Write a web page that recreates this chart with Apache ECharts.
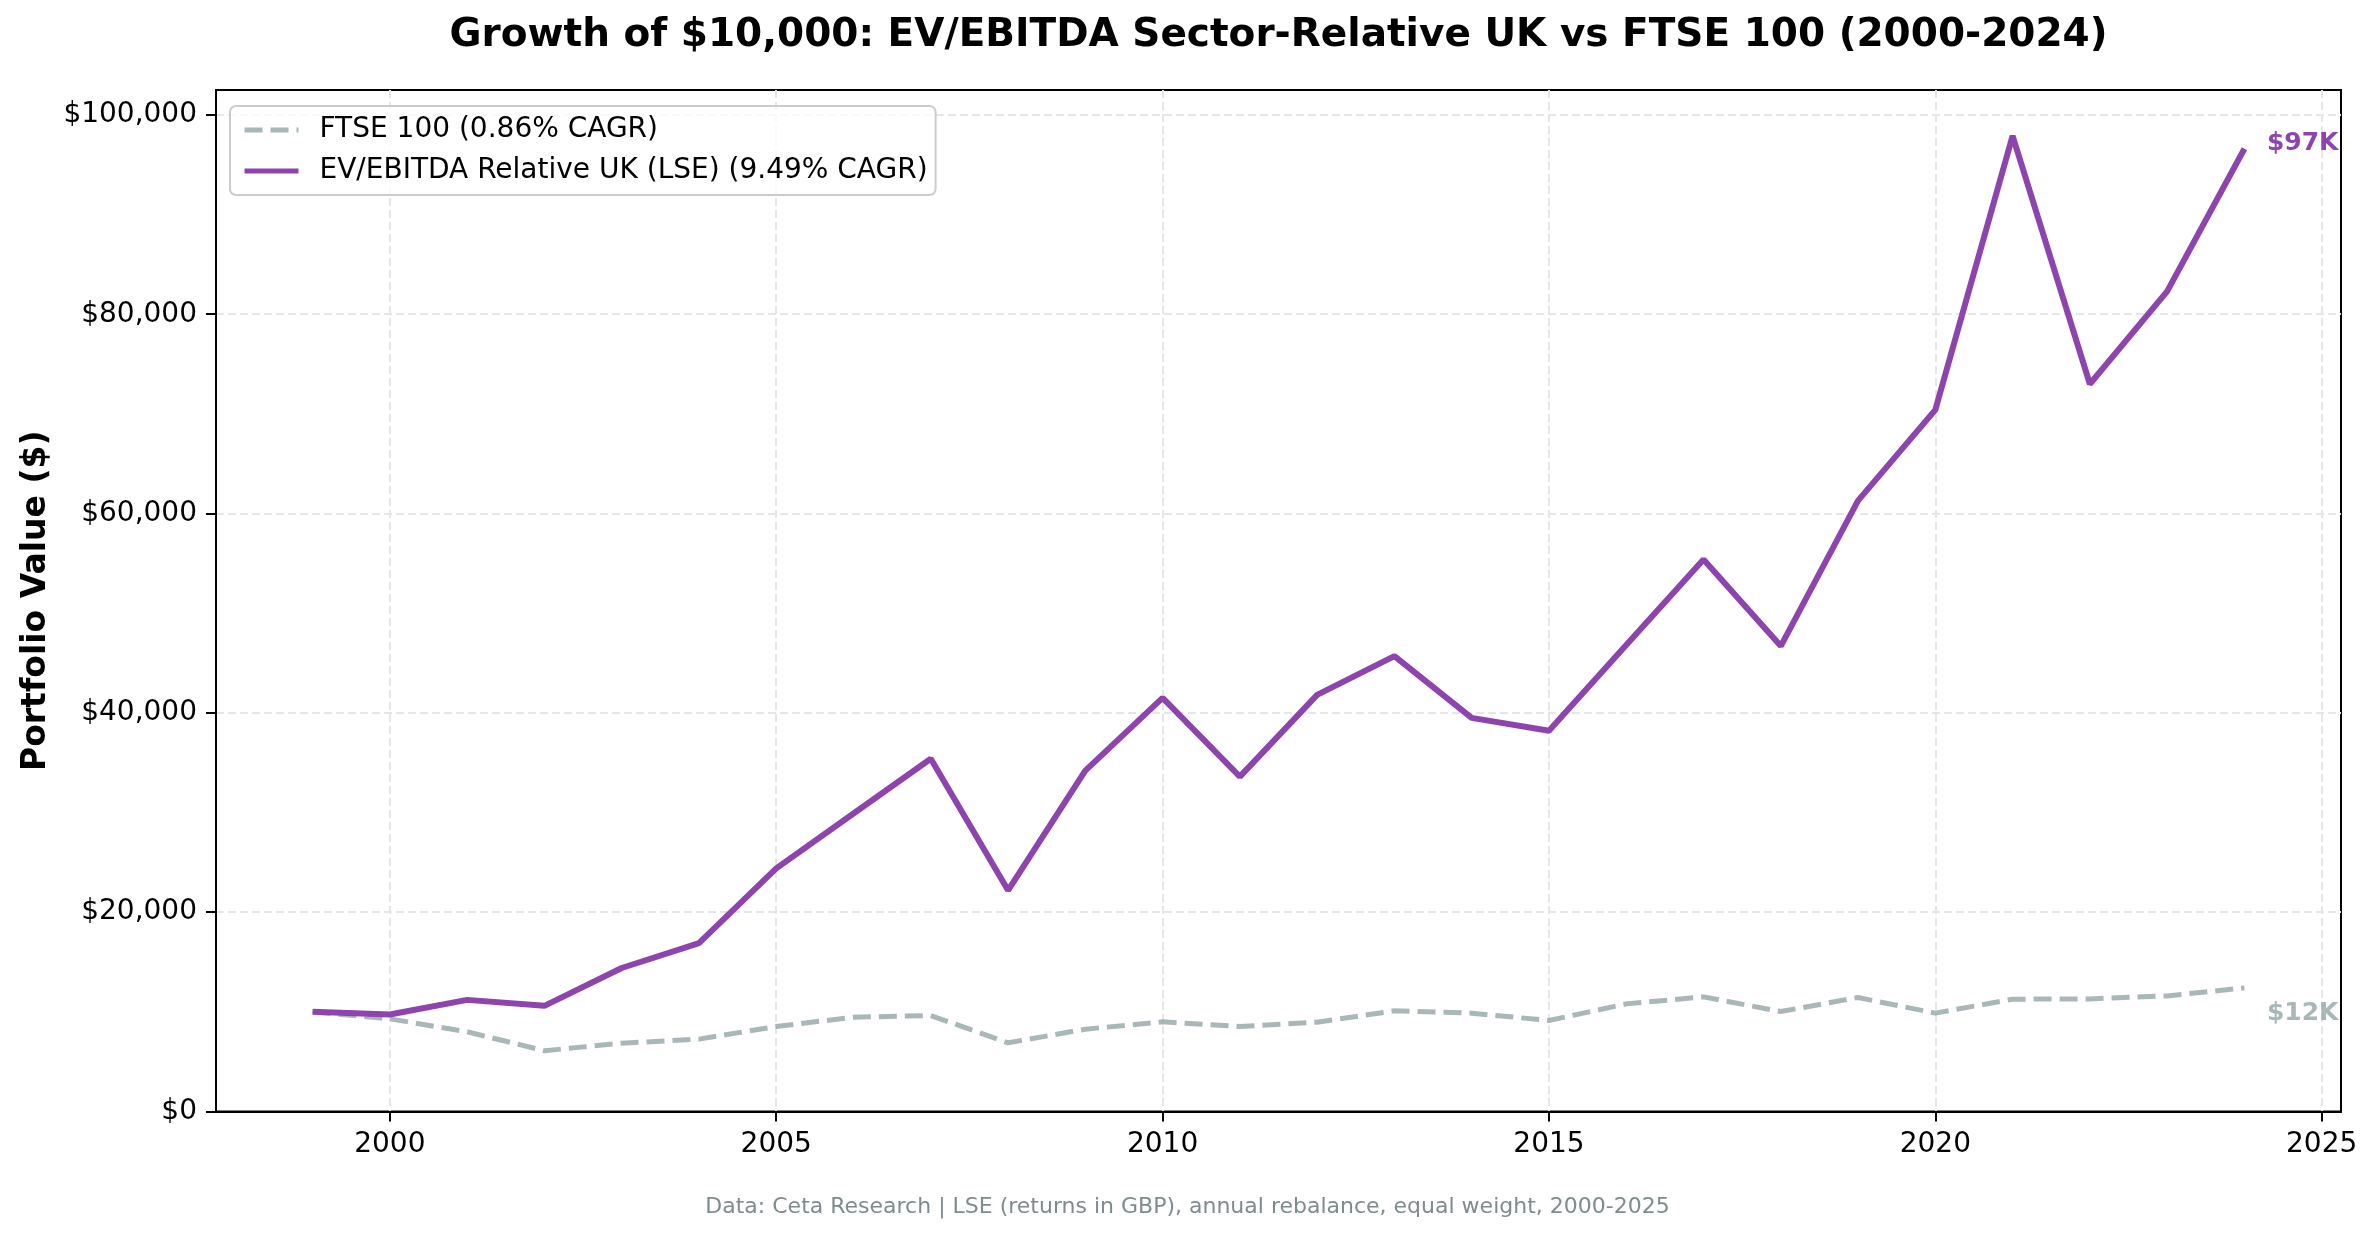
<!DOCTYPE html>
<html><head><meta charset="utf-8">
<script src="https://cdn.jsdelivr.net/npm/echarts@6/dist/echarts.min.js"></script>
<style>html,body{margin:0;padding:0;background:#fff}#c{width:2375px;height:1239px}</style>
</head><body><div id="c"></div>
<script>
const years = [1999,2000,2001,2002,2003,2004,2005,2006,2007,2008,2009,2010,2011,2012,2013,2014,2015,2016,2017,2018,2019,2020,2021,2022,2023,2024];
const ftse = [10000,9300,8000,6100,6850,7260,8530,9460,9630,6890,8260,9000,8530,8960,10100,9870,9130,10800,11500,10030,11440,9870,11270,11300,11600,12400];
const evEbitda = [10000,9730,11200,10600,14400,16900,24400,29900,35400,22200,34200,41500,33600,41800,45700,39500,38200,46800,55400,46700,61300,70400,97900,73000,82300,96600];
const seriesNames = ['FTSE 100 (0.86% CAGR)', 'EV/EBITDA Relative UK (LSE) (9.49% CAGR)'];
const xTicks = [2000,2005,2010,2015,2020,2025];
const yTicks = [0,20000,40000,60000,80000,100000];
const titleText = 'Growth of $10,000: EV/EBITDA Sector-Relative UK vs FTSE 100 (2000-2024)';
const footerText = 'Data: Ceta Research | LSE (returns in GBP), annual rebalance, equal weight, 2000-2025';
const yName = 'Portfolio Value ($)';

const FONT = 'DejaVu Sans';
const GRAY = 'rgba(149,165,166,0.8)';
const PURPLE = '#8e44ad';
const W = 2375, H = 1239;
const G = {left: 216, right: 34, top: 90, bottom: 127.5};

function pairs(vals){ return years.map((y,i)=>[y, vals[i]]); }
function endLabel(vals, color, dy){
  const n = vals.length - 1;
  return {
    symbol: 'circle', symbolSize: 1, silent: true,
    itemStyle: {color: 'rgba(0,0,0,0)'},
    data: [{coord: [years[n], vals[n]], value: vals[n]}],
    label: {show: true, position: 'right', distance: 22, offset: [0, dy],
      formatter: p => '$' + Math.round(p.value/1000) + 'K',
      color: color, fontFamily: FONT, fontWeight: 'bold', fontSize: 25}
  };
}

const chart = echarts.init(document.getElementById('c'), null, {renderer: 'canvas'});
chart.setOption({
  animation: false,
  backgroundColor: '#fff',
  textStyle: {fontFamily: FONT},
  title: [
    {text: footerText, left: 'center', top: 1191,
     textStyle: {fontFamily: FONT, fontSize: 22, fontWeight: 'normal', color: '#7f8c8d'}}
  ],
  graphic: [
    {type: 'text', x: G.left + (W - G.left - G.right) / 2, y: 36, silent: true,
     style: {text: titleText, fill: '#000', font: 'bold 39px "DejaVu Sans"', textAlign: 'center', textVerticalAlign: 'middle'}}
  ],
  grid: {left: G.left, right: G.right, top: G.top, bottom: G.bottom, show: true, borderColor: '#000', borderWidth: 2, backgroundColor: 'rgba(0,0,0,0)'},
  legend: {
    orient: 'vertical', left: 230, top: 106,
    padding: [10, 8, 10, 12], itemGap: 13, itemWidth: 54, itemHeight: 28,
    backgroundColor: 'rgba(255,255,255,0.8)', borderColor: '#cccccc', borderWidth: 2, borderRadius: 6,
    itemStyle: {color: 'rgba(0,0,0,0)', borderWidth: 0, opacity: 0},
    lineStyle: {width: 5},
    textStyle: {fontFamily: FONT, fontSize: 28, color: '#000', padding: [0,0,0,16]},
    data: seriesNames
  },
  xAxis: {
    type: 'value', min: 1997.75, max: 2025.25,
    axisLine: {show: true, onZero: false, lineStyle: {color: '#000', width: 2}},
    axisTick: {show: true, inside: false, length: 10, customValues: xTicks, lineStyle: {color: '#000', width: 2}},
    axisLabel: {customValues: xTicks, margin: 19, fontSize: 28, color: '#000', fontFamily: FONT, formatter: v => String(v)},
    splitLine: {show: true, lineStyle: {color: '#e6e6e6', width: 2, type: [8, 4]}}
  },
  yAxis: {
    type: 'value', min: 0, max: 102500,
    name: yName, nameLocation: 'middle', nameGap: 163,
    nameTextStyle: {fontFamily: FONT, fontSize: 33, fontWeight: 'bold', color: '#000'},
    axisLine: {show: true, lineStyle: {color: '#000', width: 2}},
    axisTick: {show: true, inside: false, length: 10, customValues: yTicks, lineStyle: {color: '#000', width: 2}},
    axisLabel: {customValues: yTicks, margin: 19, fontSize: 28, color: '#000', fontFamily: FONT,
      formatter: v => '$' + Math.round(v).toLocaleString('en-US')},
    splitLine: {show: true, lineStyle: {color: '#e6e6e6', width: 2, type: [8, 4]}}
  },
  series: [
    {name: seriesNames[0], type: 'line', data: pairs(ftse), symbol: 'none', showSymbol: false, silent: true, z: 3,
     lineStyle: {color: GRAY, width: 5, type: [18, 8]}, itemStyle: {color: GRAY},
     markPoint: endLabel(ftse, GRAY, 26)},
    {name: seriesNames[1], type: 'line', data: pairs(evEbitda), symbol: 'none', showSymbol: false, silent: true, z: 4,
     lineStyle: {color: PURPLE, width: 6}, itemStyle: {color: PURPLE},
     markPoint: endLabel(evEbitda, PURPLE, -5)}
  ]
});
</script></body></html>
